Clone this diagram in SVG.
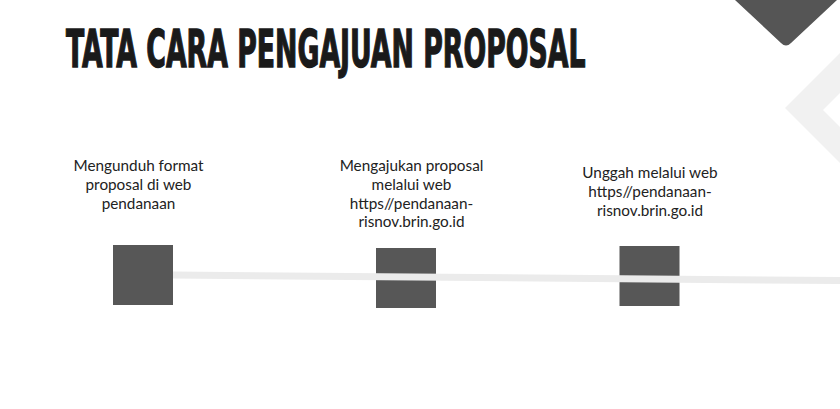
<svg xmlns="http://www.w3.org/2000/svg" width="840" height="409" viewBox="0 0 840 409">
<style>
.lbl{font-family:Lato,"Liberation Sans",sans-serif;font-size:15.3px;fill:#222;text-anchor:middle}
.box{fill:#575757}
</style>
<rect width="840" height="409" fill="#ffffff"/>
<g id="decor">
<path d="M840,53 L785,108 L840,163 L840,127 L823,110 L840,93 Z" fill="#f1f1f1"/>
<path d="M735,0 L781,43 Q786,48 791,43 L837,0 Z" fill="#555555"/>
</g>
<g id="title">
<text transform="translate(66,67) scale(0.583,1)" x="0" y="0" font-family="'DejaVu Sans Condensed','Liberation Sans',sans-serif" font-weight="bold" font-size="51" fill="#1a1a1a" stroke="#1a1a1a" stroke-width="1.4">TATA CARA PENGAJUAN PROPOSAL</text>
</g>
<g id="node1">
<rect class="box" x="113" y="245" width="60" height="60"/>
<text class="lbl"><tspan x="138.5" y="171">Mengunduh format</tspan><tspan x="138.5" y="190">proposal di web</tspan><tspan x="138.5" y="208.5">pendanaan</tspan></text>
</g>
<g id="node2">
<rect class="box" x="376" y="248" width="60" height="60"/>
<text class="lbl"><tspan x="411.5" y="171">Mengajukan proposal</tspan><tspan x="411.5" y="190">melalui web</tspan><tspan x="411.5" y="208.5">https//pendanaan-</tspan><tspan x="411.5" y="227">risnov.brin.go.id</tspan></text>
</g>
<g id="node3">
<rect class="box" x="619.5" y="246" width="60" height="60"/>
<text class="lbl"><tspan x="650" y="178">Unggah melalui web</tspan><tspan x="650" y="197">https//pendanaan-</tspan><tspan x="650" y="216">risnov.brin.go.id</tspan></text>
</g>
<g id="connectors">
<line x1="173" y1="275" x2="840" y2="280.6" stroke="#ebebeb" stroke-width="7"/>
</g>
</svg>
